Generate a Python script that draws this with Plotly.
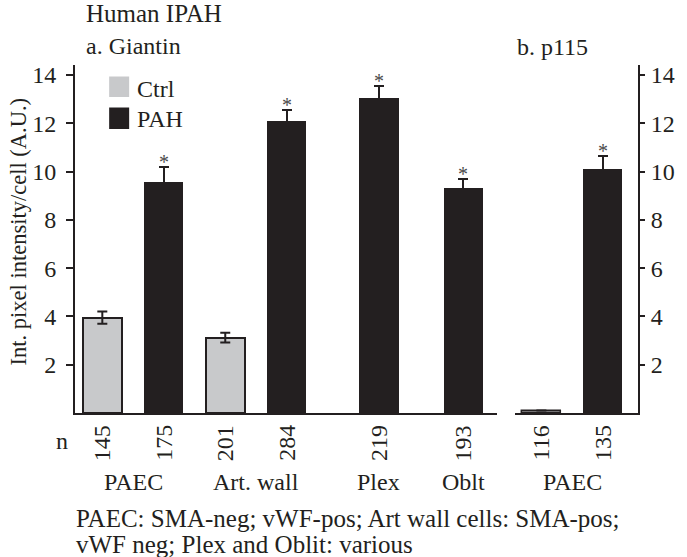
import plotly.graph_objects as go

# ---- data ----
groups_a = ["PAEC", "Art. wall", "Plex", "Oblt"]
ctrl_a = [3.95, 3.12]          # PAEC, Art. wall
ctrl_a_err = [0.25, 0.2]
ctrl_a_n = ["145", "201"]
pah_a = [9.56, 12.1, 13.04, 9.32]   # PAEC, Art. wall, Plex, Oblt
pah_a_err = [0.65, 0.45, 0.5, 0.36]
pah_a_n = ["175", "284", "219", "193"]

groups_b = ["PAEC"]
ctrl_b = [0.1]
ctrl_b_err = [0.0]
ctrl_b_n = ["116"]
pah_b = [10.1]
pah_b_err = [0.55]
pah_b_n = ["135"]

y_ticks = [2, 4, 6, 8, 10, 12, 14]
footnote = ["PAEC: SMA-neg; vWF-pos; Art wall cells: SMA-pos;",
            "vWF neg; Plex and Oblit: various"]

# ---- layout helpers ----
W, H = 687, 557
L, R, T, B = 75, 35, 65, 144
PW, PH = W - L - R, H - T - B
def px(x):
    return (x - L) / PW
def py(y):
    return (H - B - y) / PH

FONT = "Liberation Serif, Times New Roman, serif"
TXT = "#231f20"
GRAY = "#c8c9cb"
BLACK = "#231f20"
FS = 24

x_ctrl_a = [0, 2]
x_pah_a = [1, 3, 4.5, 5.875]
x_ctrl_b = [0]
x_pah_b = [1]
BW = 0.64

fig = go.Figure()

def bars(x, y, err, fill, xa, ya, line_w):
    fig.add_trace(go.Bar(
        x=x, y=y, width=BW, xaxis=xa, yaxis=ya,
        marker=dict(color=fill, line=dict(color=BLACK, width=line_w)),
        error_y=dict(type="data", array=err, color=BLACK, thickness=2, width=5, visible=True),
        showlegend=False, hoverinfo="skip"))

bars(x_ctrl_a, ctrl_a, ctrl_a_err, GRAY, "x", "y", 2)
bars(x_pah_a, pah_a, pah_a_err, BLACK, "x", "y", 0)
bars(x_ctrl_b, ctrl_b, ctrl_b_err, GRAY, "x2", "y2", 1.5)
bars(x_pah_b, pah_b, pah_b_err, BLACK, "x2", "y2", 0)

ymax = PH / 24.14
axis_common = dict(showline=True, linecolor=BLACK, linewidth=2, ticks="outside",
                   tickwidth=2, tickcolor=BLACK, tickvals=y_ticks,
                   range=[0, ymax], showgrid=False, zeroline=False,
                   tickfont=dict(family=FONT, size=FS, color=TXT))
xcommon = dict(showline=True, linecolor=BLACK, linewidth=2, showticklabels=False,
               ticks="", showgrid=False, zeroline=False)

fig.update_layout(
    width=W, height=H, margin=dict(l=L, r=R, t=T, b=B),
    paper_bgcolor="white", plot_bgcolor="white", bargap=0,
    xaxis=dict(domain=[0, px(507.7)], range=[(75 - 103) / 63, (507.7 - 103) / 63], **xcommon),
    xaxis2=dict(domain=[px(526), 1], range=[(526 - 553) / 63, (652 - 553) / 63], anchor="y2", **xcommon),
    yaxis=dict(anchor="x", side="left", ticklen=7, ticklabelstandoff=5, **axis_common),
    yaxis2=dict(anchor="x2", side="right", ticklen=5, ticklabelstandoff=1, **axis_common),
)

ann = []
def txt(text, x, y, size=FS, xref="paper", yref="paper", xanchor="left", yanchor="middle",
        angle=0, color=TXT, yshift=0):
    ann.append(dict(text=text, x=x, y=y, xref=xref, yref=yref, xanchor=xanchor,
                    yanchor=yanchor, showarrow=False, textangle=angle, yshift=yshift,
                    font=dict(family=FONT, size=size, color=color)))

# significance asterisks
for xs, vs, es, xr, yr in [(x_pah_a, pah_a, pah_a_err, "x", "y"),
                           (x_pah_b, pah_b, pah_b_err, "x2", "y2")]:
    for xv, v, e in zip(xs, vs, es):
        txt("*", xv, v + e, size=20, xref=xr, yref=yr, xanchor="center",
            color="#4a4a4a", yshift=5)

txt("Human IPAH", px(84), py(13), size=25)
txt("a. Giantin", px(84), py(46))
txt("b. p115", px(526), py(47))
txt("Int. pixel intensity/cell (A.U.)", px(17), py(232), size=22.5, xanchor="center", angle=-90)

# n labels
txt("n", px(62), py(441), xanchor="center")
for xs, ns, xr in [(x_ctrl_a, ctrl_a_n, "x"), (x_pah_a, pah_a_n, "x"),
                   (x_ctrl_b, ctrl_b_n, "x2"), (x_pah_b, pah_b_n, "x2")]:
    for xv, n in zip(xs, ns):
        txt(n, xv, py(443), xref=xr, xanchor="center", angle=-90)

# group labels
for xv, g in zip([0.5, 2.5, 4.5, 5.875], groups_a):
    txt(g, xv, py(482), xref="x", xanchor="center")
txt(groups_b[0], 0.5, py(482), xref="x2", xanchor="center")

# footnote
txt(footnote[0], px(74), py(518), size=25)
txt(footnote[1], px(74), py(544), size=25)

# legend
fig.add_shape(type="rect", xref="paper", yref="paper", x0=px(110), x1=px(130.5),
              y0=py(97), y1=py(76.5), fillcolor=GRAY, line=dict(width=0))
fig.add_shape(type="rect", xref="paper", yref="paper", x0=px(110), x1=px(130.5),
              y0=py(129), y1=py(107.5), fillcolor=BLACK, line=dict(width=0))
txt("Ctrl", px(136), py(89))
txt("PAH", px(136), py(119))

fig.update_layout(annotations=ann)
fig.write_html("out.html", config={"displayModeBar": False},
               post_script="document.body.style.margin='0px';")
